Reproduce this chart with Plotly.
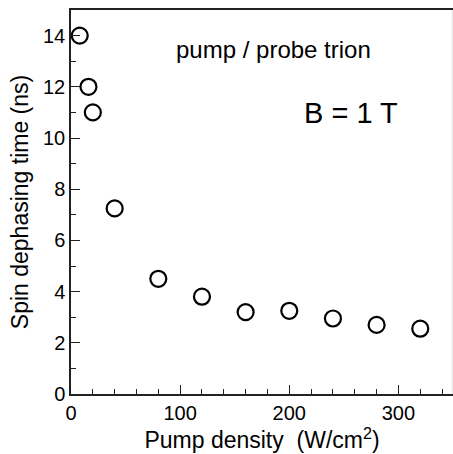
import plotly.graph_objects as go

pump_density = [8, 16, 20, 40, 80, 120, 160, 200, 240, 280, 320]
dephasing_time = [14.0, 12.0, 11.0, 7.25, 4.5, 3.8, 3.2, 3.25, 2.95, 2.7, 2.55]

FONT = "Liberation Sans, Arial, sans-serif"

fig = go.Figure()
fig.add_trace(go.Scatter(
    x=pump_density, y=dephasing_time, mode="markers",
    marker=dict(symbol="circle-open", size=16, color="black", line=dict(width=2.2, color="black")),
    showlegend=False, cliponaxis=False,
))

axis_common = dict(
    showgrid=False, zeroline=False, showline=True, linecolor="#222", linewidth=1.5,
    ticks="inside", ticklen=9, tickwidth=1.2, tickcolor="#222",
    tickfont=dict(family=FONT, size=20, color="black"),
)

fig.update_xaxes(
    range=[0, 350], dtick=100, tick0=0, mirror=True,
    minor=dict(dtick=20, ticks="inside", ticklen=5, tickcolor="#222", tickwidth=1.2),
    title=dict(text="Pump density  (W/cm<sup>2</sup>)", font=dict(family=FONT, size=23, color="black"), standoff=3),
    **axis_common,
)
fig.update_yaxes(
    range=[0, 15], dtick=2, tick0=0, mirror=False,
    minor=dict(dtick=1, ticks="inside", ticklen=5, tickcolor="#222", tickwidth=1.2),
    title=dict(text="Spin dephasing time (ns)", font=dict(family=FONT, size=23, color="black"), standoff=8),
    **axis_common,
)

fig.add_shape(type="line", xref="paper", yref="paper", x0=0.998, x1=0.998, y0=0, y1=1,
              line=dict(color="#dddddd", width=1))

fig.add_annotation(x=0.53, y=0.896, xref="paper", yref="paper", text="pump / probe trion",
                   xanchor="center", yanchor="middle",
                   showarrow=False, font=dict(family=FONT, size=24, color="black"))
fig.add_annotation(x=0.733, y=0.732, xref="paper", yref="paper", text="B = 1 T",
                   xanchor="center", yanchor="middle",
                   showarrow=False, font=dict(family=FONT, size=29, color="black"))

fig.update_layout(
    width=453, height=454,
    margin=dict(l=71, r=0, t=10, b=60),
    paper_bgcolor="white", plot_bgcolor="white",
)

fig.write_html("out.html")
